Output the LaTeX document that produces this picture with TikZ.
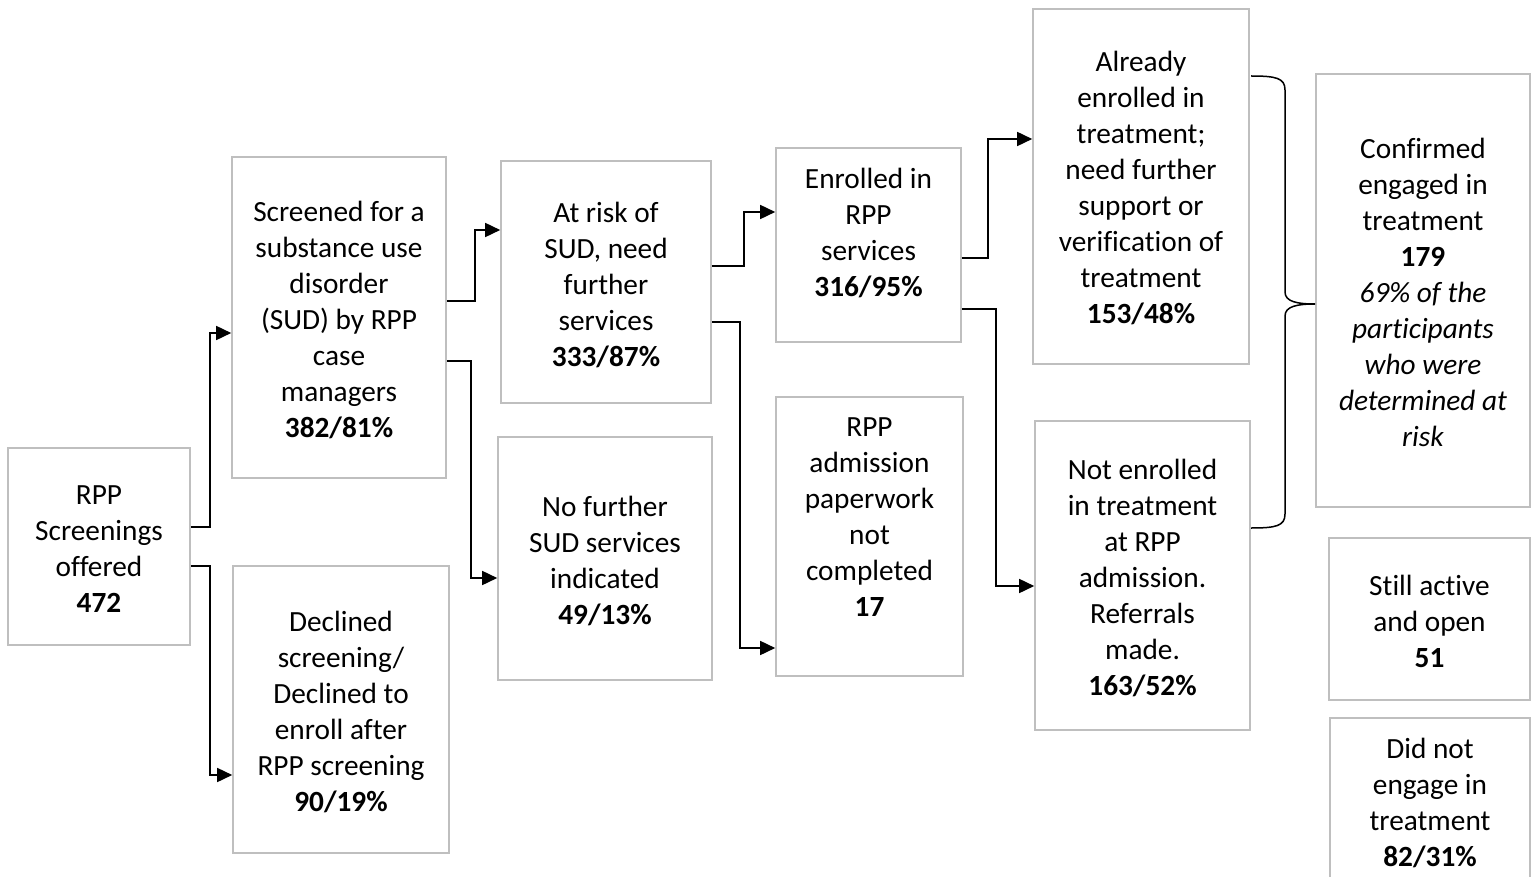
\documentclass[tikz,border=0pt]{standalone}
\usepackage{fontspec}
\setmainfont{Carlito}[Ligatures=NoCommon]
\usetikzlibrary{arrows.meta}
\begin{document}
\begin{tikzpicture}[x=1pt,y=-1pt,
  box/.style={draw=black!25, line width=1.6pt, inner sep=0pt},
  txt/.style={align=center, inner sep=0pt, font=\fontsize{29.3}{36}\selectfont},
  arr/.style={line width=1.6pt, -{Triangle[length=15pt,width=14pt]}}]
\useasboundingbox (0,0) rectangle (1538,877);
% boxes
\node[box, minimum width=182pt, minimum height=197pt] (b1) at (99,546.5) {};
\node[box, minimum width=214pt, minimum height=321pt] (b2) at (339,317.5) {};
\node[box, minimum width=216pt, minimum height=287pt] (b3) at (341,709.5) {};
\node[box, minimum width=210pt, minimum height=242pt] (b4) at (606,282) {};
\node[box, minimum width=214pt, minimum height=243pt] (b5) at (605,558.5) {};
\node[box, minimum width=185pt, minimum height=194pt] (b6) at (868.5,245) {};
\node[box, minimum width=187pt, minimum height=279pt] (b7) at (869.5,536.5) {};
\node[box, minimum width=216pt, minimum height=355pt] (b8) at (1141,186.5) {};
\node[box, minimum width=215pt, minimum height=309pt] (b9) at (1142.5,575.5) {};
\node[box, minimum width=214pt, minimum height=433pt] (b10) at (1423,290.5) {};
\node[box, minimum width=201pt, minimum height=162pt] (b11) at (1429.5,619) {};
\node[box, minimum width=200pt, minimum height=168pt] (b12) at (1430,802) {};
% texts
\node[txt] (t1) at (99,549.5) {RPP\\Screenings\\offered\\\textbf{472}};
\node[txt] (t2) at (339,319.5) {Screened for a\\substance use\\disorder\\(SUD) by RPP\\case\\managers\\\textbf{382/81\%}};
\node[txt] (t3) at (341,712) {Declined\\screening/\\Declined to\\enroll after\\RPP screening\\\textbf{90/19\%}};
\node[txt] (t4) at (606,284.5) {At risk of\\SUD, need\\further\\services\\\textbf{333/87\%}};
\node[txt] (t5) at (605,560.5) {No further\\SUD services\\indicated\\\textbf{49/13\%}};
\node[txt] (t6) at (868.5,232.5) {Enrolled in\\RPP\\services\\\textbf{316/95\%}};
\node[txt] (t7) at (869.5,517) {RPP\\admission\\paperwork\\not\\completed\\\textbf{17}};
\node[txt] (t8) at (1141,188) {Already\\enrolled in\\treatment;\\need further\\support or\\verification of\\treatment\\\textbf{153/48\%}};
\node[txt] (t9) at (1142.5,578) {Not enrolled\\in treatment\\at RPP\\admission.\\Referrals\\made.\\\textbf{163/52\%}};
\node[txt] (t10) at (1423,292) {Confirmed\\engaged in\\treatment\\\textbf{179}\\\textit{69\% of the}\\\textit{participants}\\\textit{who were}\\\textit{determined at}\\\textit{risk}};
\node[txt] (t11) at (1429.5,621) {Still active\\and open\\\textbf{51}};
\node[txt] (t12) at (1430,803) {Did not\\engage in\\treatment\\\textbf{82/31\%}};
% connectors
\draw[arr] (b1.east |- 0,527) -- (210,527) |- (b2.west |- 0,333);
\draw[arr] (b1.east |- 0,566) -- (210,566) |- (b3.west |- 0,775);
\draw[arr] (b2.east |- 0,301) -- (475,301) |- (b4.west |- 0,230);
\draw[arr] (b2.east |- 0,361) -- (471,361) |- (b5.west |- 0,578);
\draw[arr] (b4.east |- 0,266) -- (744,266) |- (b6.west |- 0,212);
\draw[arr] (b4.east |- 0,322) -- (740,322) |- (b7.west |- 0,648);
\draw[arr] (b6.east |- 0,258) -- (988,258) |- (b8.west |- 0,139);
\draw[arr] (b6.east |- 0,309) -- (996,309) |- (b9.west |- 0,586);
% brace
\coordinate (bt) at (1251,76);
\coordinate (bb) at (1251,528);
\coordinate (tip) at (b10.west |- 0,304);
\draw[line width=1.5pt] (bt) .. controls (1276,76) and (1285,78) .. (1285,90)
  -- (1285,292) .. controls (1285,302) and (1298,304) .. (tip)
  .. controls (1298,304) and (1285,306) .. (1285,316)
  -- (1285,514) .. controls (1285,526) and (1276,528) .. (bb);
\end{tikzpicture}
\end{document}
